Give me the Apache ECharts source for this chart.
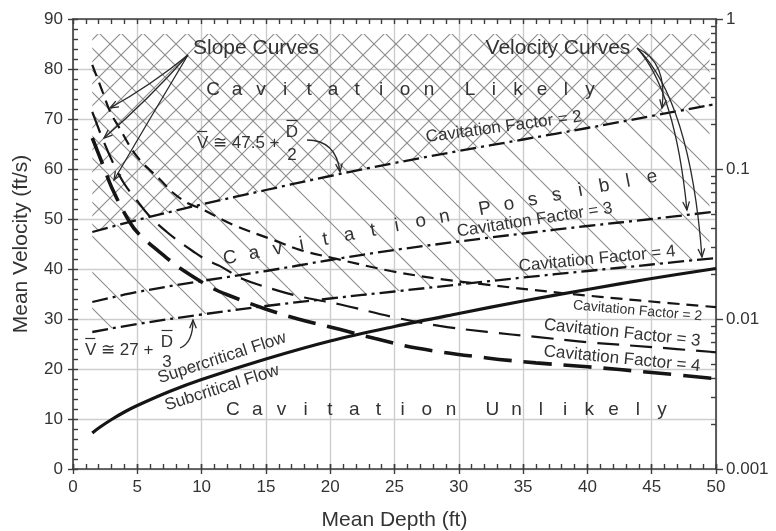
<!DOCTYPE html>
<html>
<head>
<meta charset="utf-8">
<title>Cavitation potential vs. mean depth</title>
<script src="https://cdn.jsdelivr.net/npm/echarts@6/dist/echarts.min.js"></script>
<style>
  html, body { margin: 0; padding: 0; background: #ffffff; }
  #chart { width: 776px; height: 531px; }
</style>
</head>
<body>
<div id="chart"></div>
<script>
// ---------------- data ----------------
// Critical-flow boundary (supercritical above / subcritical below)
const criticalDepth    = [1.5, 2, 3, 4, 5, 7.5, 10, 15, 20, 25, 30, 35, 40, 45, 50];
const criticalVelocity = [7.2, 8.2, 9.9, 11.4, 12.7, 15.5, 17.9, 22.0, 25.6, 28.5, 31.1, 33.6, 35.9, 38.1, 40.1];

// Velocity curves for cavitation factors 2, 3 and 4 (ft/s)
const velocityDepth = [1.5, 5, 10, 15, 20, 25, 30, 35, 40, 45, 50];
const velocityCF2   = [47.4, 49.8, 52.9, 55.8, 58.6, 61.2, 63.6, 65.9, 68.2, 70.6, 73.0];
const velocityCF3   = [33.4, 35.4, 37.6, 39.6, 41.8, 43.8, 45.5, 47.1, 48.6, 50.0, 51.5];
const velocityCF4   = [27.4, 29.0, 30.9, 32.6, 34.1, 35.5, 36.9, 38.3, 39.6, 40.9, 42.2];

// Slope curves for cavitation factors 2, 3 and 4 (right log axis)
const slopeDepthCF2 = [1.5, 2.25, 2.9, 3.7, 4.6, 5.4, 6.8, 7.8, 8.9, 10, 12.5, 15.6, 17.7, 20.2, 24.7, 28.5, 32, 38, 44, 50];
const slopeCF2      = [0.494, 0.336, 0.240, 0.182, 0.134, 0.110, 0.0845, 0.0692, 0.0593, 0.0541, 0.0423, 0.0336, 0.0288, 0.0255, 0.0209, 0.0185, 0.0170, 0.0149, 0.0133, 0.0120];
const slopeDepthCF3 = [1.5, 2.25, 3.2, 4, 5, 6, 7.3, 8.3, 9.3, 10.4, 11.4, 13.2, 16, 18, 20.8, 24.9, 28.5, 32.2, 36, 40, 45, 50];
const slopeCF3      = [0.240, 0.163, 0.106, 0.0794, 0.0612, 0.0479, 0.0380, 0.0326, 0.0284, 0.0247, 0.0226, 0.0185, 0.0154, 0.0139, 0.0125, 0.0103, 0.0090, 0.0082, 0.0076, 0.0070, 0.0065, 0.0060];
const slopeDepthCF4 = [1.5, 2.3, 3.1, 4.4, 5.2, 7.3, 8.3, 10.7, 12, 14.8, 17.5, 20.8, 23.5, 26.7, 32.2, 36, 40, 45, 50];
const slopeCF4      = [0.161, 0.108, 0.0724, 0.0443, 0.0363, 0.0255, 0.0219, 0.0163, 0.0145, 0.0118, 0.0100, 0.0085, 0.0074, 0.0064, 0.0055, 0.0051, 0.0048, 0.0044, 0.0040];

// Axis ranges and ticks
const depthTicks    = [0, 50, 5];      // min, max, interval
const velocityTicks = [0, 90, 10];
const slopeRange    = [0.001, 1];

// Extent of the hatched zones (depth from/to, upper velocity)
const hatchDepthRange = [1.5, 49.5];
const hatchTop = 87;

// ---------------- styling ----------------
const FONT = '"Liberation Sans", Arial, Helvetica, sans-serif';
const TEXT = '#333333';
const AXIS = '#3d3d3d';
const GRID = '#cdcdcd';
const INK  = '#151515';
const HATCH = '#8c8c8c';

function pairs(xs, ys) { return xs.map((x, i) => [x, ys[i]]); }

function interp(xs, ys, x) {
  for (let i = 0; i < xs.length - 1; i++) {
    if (x >= xs[i] && x <= xs[i + 1]) {
      const t = (x - xs[i]) / (xs[i + 1] - xs[i]);
      return ys[i] + t * (ys[i + 1] - ys[i]);
    }
  }
  return x < xs[0] ? ys[0] : ys[ys.length - 1];
}

// Repeating tile with 45° lines; cross=true adds the opposite diagonal
function makePattern(size, cross) {
  const c = document.createElement('canvas');
  c.width = size; c.height = size;
  const g = c.getContext('2d');
  g.strokeStyle = HATCH;
  g.lineWidth = 1.1;
  g.beginPath();
  for (let k = -1; k <= 1; k++) {
    g.moveTo(k * size, 0); g.lineTo(k * size + size, size);
    if (cross) { g.moveTo(k * size, size); g.lineTo(k * size + size, 0); }
  }
  g.stroke();
  return { image: c, repeat: 'repeat' };
}
const crossFill  = makePattern(22, true);
const singleFill = makePattern(36, false);

// Points of a curve restricted to the hatch depth range
function curveWithin(xs, ys) {
  const [a, b] = hatchDepthRange;
  const pts = [[a, interp(xs, ys, a)]];
  xs.forEach((x, i) => { if (x > a && x < b) pts.push([x, ys[i]]); });
  pts.push([b, interp(xs, ys, b)]);
  return pts;
}

function renderCrossHatch(params, api) {
  const [a, b] = hatchDepthRange;
  const lower = curveWithin(velocityDepth, velocityCF2).reverse();
  const pts = [[a, hatchTop], [b, hatchTop]].concat(lower).map(p => api.coord(p));
  return { type: 'polygon', shape: { points: pts }, style: { fill: crossFill, stroke: null } };
}
function renderSingleHatch(params, api) {
  const upper = curveWithin(velocityDepth, velocityCF2);
  const lower = curveWithin(velocityDepth, velocityCF4).reverse();
  const pts = upper.concat(lower).map(p => api.coord(p));
  return { type: 'polygon', shape: { points: pts }, style: { fill: singleFill, stroke: null } };
}

// log-axis minor tick positions 2..9 per decade
const slopeMinorTicks = [];
[0.001, 0.01, 0.1].forEach(d => { for (let m = 2; m <= 9; m++) slopeMinorTicks.push(+(d * m).toPrecision(3)); });

const tickLine = { color: AXIS, width: 1.4 };

function xAxisDef(position, opts) {
  return Object.assign({
    type: 'value', position, min: depthTicks[0], max: depthTicks[1], interval: depthTicks[2],
    axisLine: { show: true, onZero: false, lineStyle: { color: AXIS, width: 1.6 } },
    axisLabel: { show: false }, splitLine: { show: false },
    axisTick: { show: true, inside: true, length: 5, lineStyle: tickLine },
    minorTick: { show: false }
  }, opts);
}
function yAxisDef(position, opts) {
  return Object.assign({
    type: 'value', position, min: velocityTicks[0], max: velocityTicks[1], interval: velocityTicks[2],
    axisLine: { show: true, onZero: false, lineStyle: { color: AXIS, width: 1.6 } },
    axisLabel: { show: false }, splitLine: { show: false },
    axisTick: { show: true, inside: true, length: 5, lineStyle: tickLine },
    minorTick: { show: false }
  }, opts);
}

const velDash = [16, 5, 3, 5];
const SMOOTH = 0.35;

function curve(name, xs, ys, yAxisIndex, lineStyle) {
  return {
    type: 'line', name, xAxisIndex: 0, yAxisIndex, data: pairs(xs, ys),
    smooth: SMOOTH, showSymbol: false, z: 5, lineStyle: Object.assign({ color: INK }, lineStyle)
  };
}

const option = {
  animation: false,
  backgroundColor: '#ffffff',
  textStyle: { fontFamily: FONT },
  grid: { left: 73, right: 60, top: 19, bottom: 62, containLabel: false, outerBoundsMode: 'none' },
  xAxis: [
    xAxisDef('bottom', {
      name: 'Mean Depth (ft)', nameLocation: 'middle', nameGap: 41,
      nameTextStyle: { fontSize: 21, color: TEXT, fontFamily: FONT },
      axisLabel: { show: true, fontSize: 17, color: TEXT, margin: 10, fontFamily: FONT },
      axisTick: { show: true, inside: false, length: 5, lineStyle: tickLine },
      splitLine: { show: true, lineStyle: { color: GRID, width: 1.4 } }
    }),
    xAxisDef('bottom', {
      axisLine: { show: false },
      minorTick: { show: true, splitNumber: 5, length: 5, lineStyle: tickLine }
    }),
    xAxisDef('top', {
      minorTick: { show: true, splitNumber: 5, length: 5, lineStyle: tickLine }
    }),
    xAxisDef('top', {
      axisLine: { show: false },
      axisTick: { show: true, inside: false, length: 5, lineStyle: tickLine }
    })
  ],
  yAxis: [
    yAxisDef('left', {
      name: 'Mean Velocity (ft/s)', nameLocation: 'middle', nameGap: 41,
      nameTextStyle: { fontSize: 21, color: TEXT, fontFamily: FONT },
      axisLabel: { show: true, fontSize: 17, color: TEXT, margin: 10, fontFamily: FONT },
      axisTick: { show: true, inside: false, length: 5, lineStyle: tickLine },
      splitLine: { show: true, lineStyle: { color: GRID, width: 1.4 } }
    }),
    yAxisDef('left', {
      axisLine: { show: false },
      minorTick: { show: true, splitNumber: 5, length: 5, lineStyle: tickLine }
    }),
    {
      type: 'log', logBase: 10, position: 'right', min: slopeRange[0], max: slopeRange[1],
      name: 'Slope', nameLocation: 'middle', nameGap: 42, nameRotate: 90,
      nameTextStyle: { fontSize: 21, color: TEXT, fontFamily: FONT },
      axisLine: { show: true, onZero: false, lineStyle: { color: AXIS, width: 1.6 } },
      axisTick: { show: true, inside: false, length: 7, lineStyle: tickLine },
      axisLabel: { show: true, fontSize: 17, color: TEXT, margin: 10, fontFamily: FONT,
                   formatter: v => String(+v.toPrecision(3)) },
      splitLine: { show: false }
    },
    {
      type: 'log', logBase: 10, position: 'right', min: slopeRange[0], max: slopeRange[1],
      axisLine: { show: false, onZero: false },
      axisTick: { show: true, inside: true, length: 5, lineStyle: tickLine, customValues: slopeMinorTicks },
      axisLabel: { show: false }, splitLine: { show: false }
    }
  ],
  series: [
    { type: 'custom', name: 'cross', xAxisIndex: 0, yAxisIndex: 0, renderItem: renderCrossHatch,
      data: [[hatchDepthRange[0], hatchTop]], silent: true, z: 1 },
    { type: 'custom', name: 'single', xAxisIndex: 0, yAxisIndex: 0, renderItem: renderSingleHatch,
      data: [[hatchDepthRange[0], hatchTop]], silent: true, z: 1 },

    curve('Critical flow', criticalDepth, criticalVelocity, 0, { width: 3.2 }),

    curve('Velocity CF2', velocityDepth, velocityCF2, 0, { width: 2.3, type: velDash }),
    curve('Velocity CF3', velocityDepth, velocityCF3, 0, { width: 2.3, type: velDash }),
    curve('Velocity CF4', velocityDepth, velocityCF4, 0, { width: 2.3, type: velDash }),

    curve('Slope CF2', slopeDepthCF2, slopeCF2, 2, { width: 2.2, type: [12, 7] }),
    curve('Slope CF3', slopeDepthCF3, slopeCF3, 2, { width: 2.2, type: [22, 11] }),
    curve('Slope CF4', slopeDepthCF4, slopeCF4, 2, { width: 3.6, type: [28, 12] })
  ]
};

const chart = echarts.init(document.getElementById('chart'));
chart.setOption(option);

// ---------------- annotations (placed in depth / velocity units) ----------------
function px(d, v) { return chart.convertToPixel({ xAxisIndex: 0, yAxisIndex: 0 }, [d, v]); }

const elements = [];

function addText(text, d, v, size, rotDeg, align) {
  const p = px(d, v);
  elements.push({
    type: 'text', x: p[0], y: p[1], rotation: (rotDeg || 0) * Math.PI / 180, z: 20,
    style: { text, fontSize: size, fontFamily: FONT, fill: TEXT, align: align || 'center', verticalAlign: 'middle' }
  });
}

// Word pair with wide letter spacing, spread between first and last letter centres
function addSpacedText(word1, word2, from, to, size) {
  const a = px(from[0], from[1]), b = px(to[0], to[1]);
  const gap = 1.7;
  const steps = (word1.length - 1) + gap + (word2.length - 1);
  const rot = Math.atan2(-(b[1] - a[1]), b[0] - a[0]);
  const place = (ch, s) => {
    const t = s / steps;
    elements.push({
      type: 'text', x: a[0] + t * (b[0] - a[0]), y: a[1] + t * (b[1] - a[1]), rotation: rot, z: 20,
      style: { text: ch, fontSize: size, fontFamily: FONT, fill: TEXT, align: 'center', verticalAlign: 'middle' }
    });
  };
  word1.split('').forEach((ch, i) => place(ch, i));
  word2.split('').forEach((ch, j) => place(ch, word1.length - 1 + gap + j));
}

function addArrow(start, ctrl, end, head) {
  const p0 = px(start[0], start[1]), c = px(ctrl[0], ctrl[1]), p1 = px(end[0], end[1]);
  elements.push({
    type: 'bezierCurve', z: 20, silent: true,
    shape: { x1: p0[0], y1: p0[1], x2: p1[0], y2: p1[1], cpx1: c[0], cpy1: c[1] },
    style: { stroke: '#2a2a2a', lineWidth: 1.3, fill: null }
  });
  if (head !== false) {
    const ang = Math.atan2(p1[1] - c[1], p1[0] - c[0]);
    const L = 9, w = 0.38;
    elements.push({
      type: 'polyline', z: 20, silent: true,
      shape: { points: [
        [p1[0] - L * Math.cos(ang - w), p1[1] - L * Math.sin(ang - w)],
        [p1[0], p1[1]],
        [p1[0] - L * Math.cos(ang + w), p1[1] - L * Math.sin(ang + w)]
      ] },
      style: { stroke: '#2a2a2a', lineWidth: 1.3, fill: null }
    });
  }
}

function addBar(d, v, width) {
  const p = px(d, v);
  elements.push({
    type: 'line', z: 20, silent: true,
    shape: { x1: p[0] - width / 2, y1: p[1], x2: p[0] + width / 2, y2: p[1] },
    style: { stroke: TEXT, lineWidth: 1.2 }
  });
}

// Zone names
addSpacedText('Cavitation', 'Likely',   [10.89, 75.8], [40.2, 75.8], 19);
addSpacedText('Cavitation', 'Possible', [12.21, 42.2], [45.02, 58.4], 19);
addSpacedText('Cavitation', 'Unlikely', [12.44, 11.8], [45.80, 11.8], 19);

// Curve group titles and their pointers
addText('Slope Curves', 14.23, 84.2, 21, 0);
addText('Velocity Curves', 37.71, 84.2, 21, 0);
addArrow([8.94, 82.8], [5.99, 76.6], [2.88, 72.2]);
addArrow([8.94, 82.8], [5.83, 73.8], [2.41, 66.2]);
addArrow([8.94, 82.8], [6.14, 70.8], [3.19, 57.8]);
addArrow([43.86, 84.2], [46.27, 81.4], [45.80, 72.2]);
addArrow([43.86, 84.2], [46.81, 75.8], [47.74, 51.8]);
addArrow([43.86, 84.2], [47.98, 73.8], [48.91, 42.4]);

// Velocity curve labels
addText('Cavitation Factor = 2', 33.5, 68.4, 17, 7.6);
addText('Cavitation Factor = 3', 35.9, 49.8, 17, 8.7);
addText('Cavitation Factor = 4', 40.75, 42.0, 17, 5.5);

// Slope curve labels
addText('Cavitation Factor = 2', 43.9, 31.6, 14, -5);
addText('Cavitation Factor = 3', 42.7, 27.2, 17, -6);
addText('Cavitation Factor = 4', 42.7, 22.0, 17, -5.5);

// Flow regime labels
addText('Supercritical Flow', 11.59, 22.2, 17, 18);
addText('Subcritical Flow', 11.59, 16.2, 17, 17.7);

// Approximation formulas
addText('V \u2245 47.5 +', 9.64, 65.2, 17, 0, 'left');
addBar(10.05, 67.5, 10);
addText('D', 17.03, 67.4, 17, 0);
addBar(17.03, 69.7, 11);
addText('2', 17.03, 62.8, 17, 0);
addArrow([18.2, 65.8], [20.45, 65.8], [20.76, 59.4]);

addText('V \u2245 27 +', 0.93, 23.8, 17, 0, 'left');
addBar(1.34, 26.1, 10);
addText('D', 7.31, 25.4, 17, 0);
addBar(7.31, 27.7, 11);
addText('3', 7.31, 21.4, 17, 0);
addArrow([8.32, 24.2], [9.33, 25.2], [9.33, 29.8]);

chart.setOption({ graphic: { elements } });
</script>
</body>
</html>
